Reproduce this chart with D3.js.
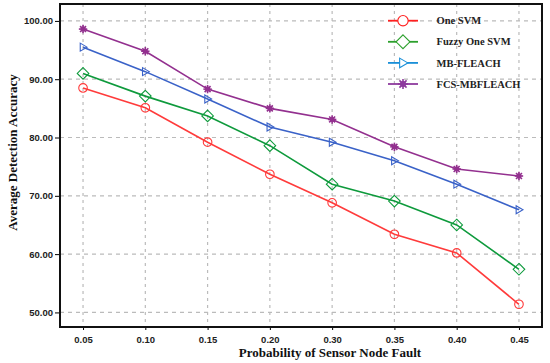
<!DOCTYPE html>
<html>
<head>
<meta charset="utf-8">
<script src="https://d3js.org/d3.v7.min.js"></script>
<style>
  body { margin: 0; background: #fff; }
</style>
</head>
<body>
<div id="my_dataviz"></div>
<script>

// data
var categories = ["0.05", "0.10", "0.15", "0.20", "0.30", "0.35", "0.40", "0.45"];
var oneSVM      = [88.5, 85.1, 79.2, 73.7, 68.8, 63.4, 60.2, 51.4];
var fuzzyOneSVM = [91.0, 87.1, 83.7, 78.6, 72.0, 69.1, 65.0, 57.4];
var mbFleach    = [95.5, 91.3, 86.6, 81.8, 79.2, 76.0, 72.0, 67.6];
var fcsMbfleach = [98.6, 94.8, 88.3, 85.0, 83.1, 78.4, 74.6, 73.4];
var yTicks = [50, 60, 70, 80, 90, 100];

var series = [
  {name: "One SVM",       values: oneSVM,      color: "#ff3b3b", legendColor: "#ff2020", marker: "circle"},
  {name: "Fuzzy One SVM", values: fuzzyOneSVM, color: "#0e9a3c", legendColor: "#2ca02c", marker: "diamond"},
  {name: "MB-FLEACH",     values: mbFleach,    color: "#3a62c8", legendColor: "#1a8fd8", marker: "triangle"},
  {name: "FCS-MBFLEACH",  values: fcsMbfleach, color: "#93308f", legendColor: "#8e3a9e", marker: "star"}
];

var W = 550, H = 363;
var margin = {top: 4, right: 8, bottom: 36, left: 60},
    width = W - margin.left - margin.right,
    height = H - margin.top - margin.bottom;

var svg = d3.select("#my_dataviz")
  .append("svg")
    .attr("width", W)
    .attr("height", H)
  .append("g")
    .attr("transform", "translate(" + margin.left + "," + margin.top + ")");

var x = d3.scalePoint()
  .domain(categories)
  .range([0, width])
  .padding(0.37);

var y = d3.scaleLinear()
  .domain([47.5, 102.9])
  .range([height, 0]);

// grid
svg.append("g")
  .selectAll("line")
  .data(categories)
  .enter().append("line")
    .attr("x1", function(d){ return x(d); })
    .attr("x2", function(d){ return x(d); })
    .attr("y1", 0).attr("y2", height)
    .attr("stroke", "#bbb").attr("stroke-width", 1.2)
    .attr("stroke-dasharray", "3,4");

svg.append("g")
  .selectAll("line")
  .data(yTicks)
  .enter().append("line")
    .attr("x1", 0).attr("x2", width)
    .attr("y1", function(d){ return y(d); })
    .attr("y2", function(d){ return y(d); })
    .attr("stroke", "#bbb").attr("stroke-width", 1.2)
    .attr("stroke-dasharray", "4,4");

// axes
var xAxis = svg.append("g")
  .attr("transform", "translate(0," + height + ")")
  .call(d3.axisBottom(x).tickSize(3).tickSizeOuter(0));
xAxis.select(".domain").remove();
xAxis.selectAll("text")
  .attr("dy", "1.1em")
  .style("font-family", "'Liberation Sans', Arial, sans-serif")
  .style("font-weight", "bold")
  .style("font-size", "9.5px")
  .attr("fill", "#222");

var yAxis = svg.append("g")
  .call(d3.axisLeft(y).tickValues(yTicks).tickFormat(d3.format(".2f")).tickSize(5).tickSizeOuter(0));
yAxis.select(".domain").remove();
yAxis.selectAll("text")
  .attr("x", -7)
  .style("font-family", "'Liberation Sans', Arial, sans-serif")
  .style("font-weight", "bold")
  .style("font-size", "9.5px")
  .attr("fill", "#222");

// frame
svg.append("rect")
  .attr("x", 0).attr("y", 0)
  .attr("width", width).attr("height", height)
  .attr("fill", "none")
  .attr("stroke", "#111")
  .attr("stroke-width", 2);

// marker drawing
function drawMarker(g, type, color, size) {
  if (type === "circle") {
    g.append("circle").attr("r", 4.3 * size)
      .attr("fill", "none").attr("stroke", color).attr("stroke-width", 1.1);
  } else if (type === "diamond") {
    var s = 5.8 * size;
    g.append("path").attr("d", "M0," + (-s) + "L" + s + ",0L0," + s + "L" + (-s) + ",0Z")
      .attr("fill", "none").attr("stroke", color).attr("stroke-width", 1.1);
  } else if (type === "triangle") {
    var t = 4 * size;
    g.append("path").attr("d", "M" + (-t * 0.7) + "," + (-t) + "L" + t + ",0L" + (-t * 0.7) + "," + t + "Z")
      .attr("fill", "none").attr("stroke", color).attr("stroke-width", 1.1);
  } else {
    var r = 4.2 * size;
    for (var k = 0; k < 4; k++) {
      var a = k * Math.PI / 4;
      g.append("line")
        .attr("x1", -r * Math.cos(a)).attr("y1", -r * Math.sin(a))
        .attr("x2", r * Math.cos(a)).attr("y2", r * Math.sin(a))
        .attr("stroke", color).attr("stroke-width", 1.6);
    }
    g.append("circle").attr("r", 2.5 * size).attr("fill", color);
  }
}

var line = d3.line()
  .x(function(d, i){ return x(categories[i]); })
  .y(function(d){ return y(d); });

series.forEach(function(s) {
  svg.append("path")
    .datum(s.values)
    .attr("fill", "none")
    .attr("stroke", s.color)
    .attr("stroke-width", 1.6)
    .attr("d", line);
  s.values.forEach(function(v, i) {
    var g = svg.append("g")
      .attr("transform", "translate(" + x(categories[i]) + "," + y(v) + ")");
    drawMarker(g, s.marker, s.color, 1);
  });
});

// legend
var legend = svg.append("g")
  .attr("transform", "translate(" + (388 - margin.left) + "," + (20.7 - margin.top) + ")");
series.forEach(function(s, i) {
  var row = legend.append("g").attr("transform", "translate(0," + (i * 21.1) + ")");
  row.append("line")
    .attr("x1", 0).attr("x2", 30)
    .attr("stroke", s.legendColor).attr("stroke-width", 1.8);
  var m = row.append("g").attr("transform", "translate(15,0)");
  drawMarker(m, s.marker, s.legendColor, 1.2);
  m.selectAll("*").attr("fill", s.marker === "star" ? s.legendColor : "#fff");
  row.append("text")
    .attr("x", 48.5)
    .attr("y", 0)
    .attr("dy", "0.35em")
    .text(s.name)
    .style("font-family", "'Liberation Serif', 'Times New Roman', serif")
    .style("font-weight", "bold")
    .style("font-size", "10.5px")
    .attr("fill", "#222");
});

// axis titles
svg.append("text")
  .attr("text-anchor", "middle")
  .attr("x", 330 - margin.left)
  .attr("y", 357 - margin.top)
  .text("Probability of Sensor Node Fault")
  .style("font-family", "'Liberation Serif', 'Times New Roman', serif")
  .style("font-weight", "bold")
  .style("font-size", "13px")
  .attr("fill", "#111");

svg.append("text")
  .attr("text-anchor", "middle")
  .attr("transform", "translate(" + (17 - margin.left) + "," + (152.5 - margin.top) + ") rotate(-90)")
  .text("Average Detection Accuracy")
  .style("font-family", "'Liberation Serif', 'Times New Roman', serif")
  .style("font-weight", "bold")
  .style("font-size", "13px")
  .attr("fill", "#111");

</script>
</body>
</html>
